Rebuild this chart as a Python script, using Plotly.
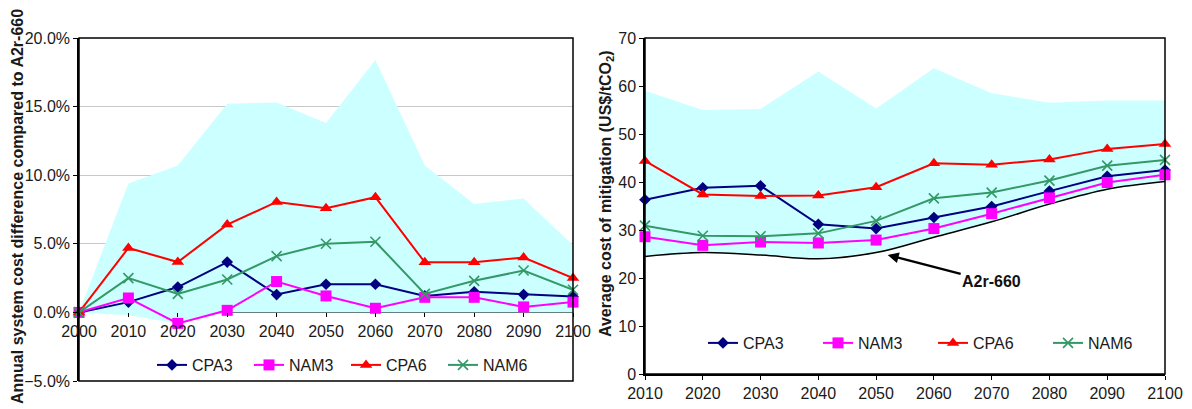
import plotly.graph_objects as go

# ---------------- data ----------------
years_left = [2000, 2010, 2020, 2030, 2040, 2050, 2060, 2070, 2080, 2090, 2100]
band_left_upper = [0.0, 9.4, 10.7, 15.2, 15.3, 13.8, 18.4, 10.7, 7.9, 8.3, 4.9]
band_left_lower = [0.0, -0.2, -0.8, 0.0, 0.0, 0.0, 0.0, 0.0, 0.0, 0.0, 0.0]
cpa3_left = [0.0, 0.75, 1.85, 3.67, 1.3, 2.05, 2.05, 1.2, 1.5, 1.3, 1.15]
nam3_left = [0.0, 1.05, -0.8, 0.15, 2.25, 1.2, 0.3, 1.1, 1.1, 0.4, 0.75]
cpa6_left = [0.0, 4.7, 3.67, 6.4, 8.05, 7.6, 8.4, 3.65, 3.65, 4.0, 2.5]
nam6_left = [0.0, 2.5, 1.35, 2.4, 4.1, 5.0, 5.15, 1.35, 2.3, 3.05, 1.65]

years_right = [2010, 2020, 2030, 2040, 2050, 2060, 2070, 2080, 2090, 2100]
band_right_upper = [59.0, 55.0, 55.2, 63.0, 55.3, 63.7, 58.5, 56.5, 57.0, 57.0]
a2r_660 = [24.5, 25.3, 24.8, 24.0, 25.3, 28.5, 31.7, 35.4, 38.5, 40.1]
cpa3_right = [36.3, 38.8, 39.2, 31.2, 30.3, 32.6, 34.9, 38.1, 41.2, 42.5]
nam3_right = [28.6, 26.8, 27.5, 27.3, 27.9, 30.3, 33.4, 36.7, 39.9, 41.5]
cpa6_right = [44.4, 37.4, 37.1, 37.2, 38.9, 43.9, 43.6, 44.7, 46.9, 47.9]
nam6_right = [30.9, 28.8, 28.7, 29.3, 31.9, 36.6, 37.8, 40.3, 43.4, 44.6]

left_yticks = [-5, 0, 5, 10, 15, 20]
left_yticktext = ["\u22125.0%", "0.0%", "5.0%", "10.0%", "15.0%", "20.0%"]
right_yticks = [0, 10, 20, 30, 40, 50, 60, 70]

series_names = ["CPA3", "NAM3", "CPA6", "NAM6"]
colors = {"CPA3": "#000080", "NAM3": "#ff00ff", "CPA6": "#ff0000", "NAM6": "#339966"}
symbols = {"CPA3": "diamond", "NAM3": "square", "CPA6": "triangle-up", "NAM6": "x-thin"}
sizes = {"CPA3": 9, "NAM3": 11, "CPA6": 11, "NAM6": 10}

FONT = "Liberation Sans, Arial, sans-serif"
BAND = "#ccffff"
TXT = "#1a1a1a"

fig = go.Figure()

# ---------------- left panel ----------------
fig.add_trace(go.Scatter(x=years_left, y=band_left_lower, mode="lines",
                         line=dict(width=0, color=BAND), showlegend=False,
                         hoverinfo="skip", xaxis="x", yaxis="y"))
fig.add_trace(go.Scatter(x=years_left, y=band_left_upper, mode="lines", fill="tonexty",
                         fillcolor=BAND, line=dict(width=0, color=BAND), showlegend=False,
                         hoverinfo="skip", xaxis="x", yaxis="y"))

left_data = {"CPA3": cpa3_left, "NAM3": nam3_left, "CPA6": cpa6_left, "NAM6": nam6_left}
right_data = {"CPA3": cpa3_right, "NAM3": nam3_right, "CPA6": cpa6_right, "NAM6": nam6_right}


def marker_for(name):
    if symbols[name] == "x-thin":
        return dict(symbol="x-thin", size=sizes[name], color=colors[name],
                    line=dict(width=1.6, color=colors[name]))
    return dict(symbol=symbols[name], size=sizes[name], color=colors[name], line=dict(width=0))


for name in series_names:
    fig.add_trace(go.Scatter(x=years_left, y=left_data[name], mode="lines+markers", name=name,
                             line=dict(color=colors[name], width=2), marker=marker_for(name),
                             cliponaxis=False, xaxis="x", yaxis="y", legend="legend"))

# ---------------- right panel ----------------
fig.add_trace(go.Scatter(x=years_right, y=a2r_660, mode="lines",
                         line=dict(width=0, color=BAND), showlegend=False,
                         hoverinfo="skip", xaxis="x2", yaxis="y2"))
fig.add_trace(go.Scatter(x=years_right, y=band_right_upper, mode="lines", fill="tonexty",
                         fillcolor=BAND, line=dict(width=0, color=BAND), showlegend=False,
                         hoverinfo="skip", xaxis="x2", yaxis="y2"))
fig.add_trace(go.Scatter(x=years_right, y=a2r_660, mode="lines", line=dict(color="black", width=1.5),
                         line_shape="spline", showlegend=False, hoverinfo="skip", xaxis="x2", yaxis="y2"))

for name in series_names:
    fig.add_trace(go.Scatter(x=years_right, y=right_data[name], mode="lines+markers", name=name,
                             line=dict(color=colors[name], width=2), marker=marker_for(name),
                             cliponaxis=False, xaxis="x2", yaxis="y2", legend="legend2"))

# ---------------- layout ----------------
W, H = 1192, 409
lx0, lx1 = 79 / W, 573 / W
ly0, ly1 = (H - 381) / H, (H - 38) / H
rx0, rx1 = 645 / W, 1165 / W
ry0, ry1 = (H - 374) / H, (H - 38) / H

ymin_l, ymax_l = -5, 20
zero_pos = ly0 + (0 - ymin_l) / (ymax_l - ymin_l) * (ly1 - ly0)

tickfont = dict(family=FONT, size=16, color=TXT)

fig.update_layout(
    template="none",
    width=W, height=H, margin=dict(l=0, r=0, t=0, b=0, autoexpand=False),
    paper_bgcolor="white", plot_bgcolor="white",
    font=dict(family=FONT, size=16, color=TXT),
    xaxis=dict(domain=[lx0, lx1], range=[2000, 2100], tickvals=years_left,
               anchor="free", position=zero_pos, showline=False, showgrid=False,
               zeroline=False, ticks="outside", ticklen=4, tickcolor="black",
               tickfont=tickfont, automargin=False),
    yaxis=dict(domain=[ly0, ly1], range=[ymin_l, ymax_l], tickvals=left_yticks,
               ticktext=left_yticktext, showgrid=True, gridcolor="#c8c8c8", gridwidth=1,
               zeroline=True, zerolinecolor="black", zerolinewidth=1.5,
               showline=True, linecolor="black", linewidth=1.5,
               ticks="outside", ticklen=4, tickcolor="black", tickfont=tickfont,
               automargin=False),
    xaxis2=dict(domain=[rx0, rx1], range=[2010, 2100], tickvals=years_right, anchor="y2",
                showline=True, linecolor="black", linewidth=1.5, showgrid=False, zeroline=False,
                ticks="outside", ticklen=4, tickcolor="black", tickfont=tickfont,
                automargin=False),
    yaxis2=dict(domain=[ry0, ry1], range=[0, 70], tickvals=right_yticks, anchor="x2",
                showline=True, linecolor="black", linewidth=1.5, showgrid=False, zeroline=False,
                ticks="outside", ticklen=4, tickcolor="black", tickfont=tickfont,
                automargin=False),
    legend=dict(orientation="h", x=152 / W, y=(H - 365) / H, xanchor="left", yanchor="middle",
                bgcolor="rgba(0,0,0,0)", font=dict(family=FONT, size=16, color=TXT),
                entrywidthmode="pixels", entrywidth=52, itemwidth=30, traceorder="normal"),
    legend2=dict(orientation="h", x=703 / W, y=(H - 343) / H, xanchor="left", yanchor="middle",
                 bgcolor="rgba(0,0,0,0)", font=dict(family=FONT, size=16, color=TXT),
                 entrywidthmode="pixels", entrywidth=70, itemwidth=30, traceorder="normal"),
    showlegend=True,
)

# plot-area frames
for xr, yr in (("x domain", "y domain"), ("x2 domain", "y2 domain")):
    fig.add_shape(type="rect", xref=xr, yref=yr, x0=0, x1=1, y0=0, y1=1,
                  line=dict(color="black", width=1.5), fillcolor="rgba(0,0,0,0)", layer="above")

# axis titles
fig.add_annotation(text="<b>Annual system cost difference compared to A2r-660</b>",
                   xref="paper", yref="paper", x=17 / W, y=(H - 207) / H, textangle=-90,
                   showarrow=False, font=dict(family=FONT, size=16, color=TXT),
                   xanchor="center", yanchor="middle")
fig.add_annotation(text="<b>Average cost of mitigation (US$/tCO<sub>2</sub>)</b>",
                   xref="paper", yref="paper", x=607 / W, y=(H - 194) / H, textangle=-90,
                   showarrow=False, font=dict(family=FONT, size=16, color=TXT),
                   xanchor="center", yanchor="middle")

# A2r-660 pointer
fig.add_annotation(text="<b>A2r-660</b>", xref="x2", yref="y2", x=2052.0, y=24.8,
                   axref="x2", ayref="y2", ax=2070.0, ay=19.2,
                   showarrow=True, arrowhead=2, arrowsize=1, arrowwidth=2.2, arrowcolor="black",
                   font=dict(family=FONT, size=16, color="#111111"))

fig.write_html("out.html")
